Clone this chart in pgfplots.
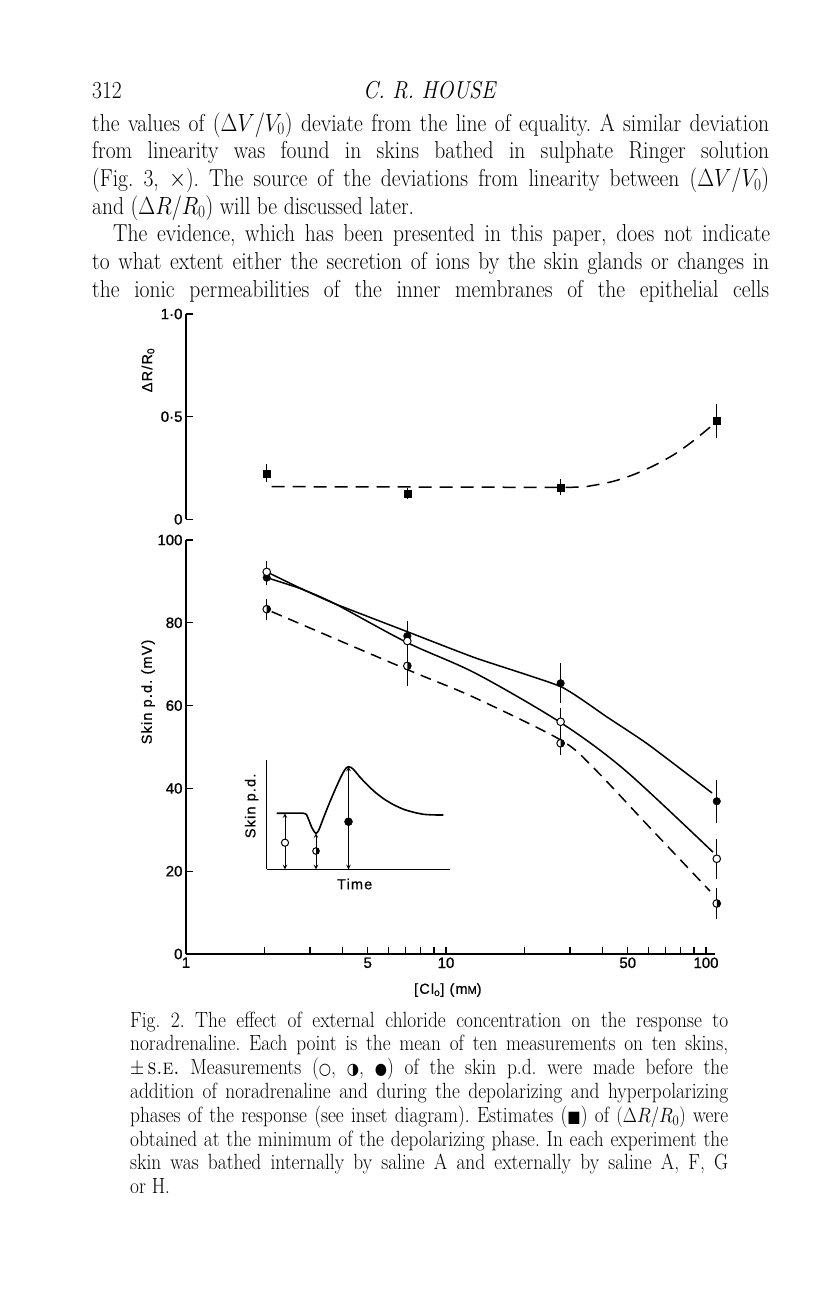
\documentclass[border=0pt]{standalone}
\usepackage{fontspec}
\usepackage{graphicx}
\usepackage{pgfplots}
\pgfplotsset{compat=1.18}
\newfontfamily\chartfont{Liberation Sans}[FakeBold=1]
\newfontfamily\chartls{Liberation Sans}[LetterSpace=8, FakeBold=0.6]
\newfontfamily\symfont{DejaVu Sans}
\newcommand\bodyfont{\fontsize{24.5}{27.7}\selectfont\addfontfeatures{FakeBold=0.6}}
\newcommand\capfont{\fontsize{22}{23.8}\selectfont\addfontfeatures{FakeBold=0.5}}
\newcommand\jl[2]{\scalebox{0.88}[1]{\makebox[#1][s]{#2}}}
\newcommand\nl[1]{\scalebox{0.88}[1]{#1}}
\frenchspacing
\pgfdeclareplotmark{halfR}{%
  \pgfpathcircle{\pgfpointorigin}{\pgfplotmarksize}%
  \pgfsetfillcolor{white}%
  \pgfusepathqfillstroke
  \pgfpathmoveto{\pgfqpoint{0pt}{\pgfplotmarksize}}%
  \pgfpatharc{90}{-90}{\pgfplotmarksize}%
  \pgfpathclose
  \pgfsetfillcolor{black}%
  \pgfusepathqfill
}
\pgfplotsset{
  chartbase/.style={
    scale only axis, clip=false,
    /pgf/number format/assume math mode=true,
    axis line style={-, line width=1.7pt, black},
    tick style={line width=1.3pt, black},
    major tick length=7pt, minor tick length=7pt,
    tick align=inside,
    xminorticks=false, yminorticks=false,
    ticklabel style={font=\chartfont\fontsize{15}{15}\selectfont},
    label style={font=\chartls\fontsize{14.5}{14.5}\selectfont},
    error bars/error bar style={line width=1.2pt, black},
    error bars/error mark options={line width=1.2pt, black, mark size=3pt},
  }
}
\begin{document}
\begin{tikzpicture}
\path[fill=white] (0pt,0pt) rectangle (816pt,-1296pt);
\begin{scope}[x=1pt,y=-1pt]
% header
\node[anchor=base west,inner sep=0,font=\bodyfont] at (92,98) {\nl{312}};
\node[anchor=base,inner sep=0,font=\bodyfont] at (430,98) {\nl{\textit{C. R. HOUSE}}};
% body text
\node[anchor=base west,inner sep=0,font=\bodyfont] at (92,131) {\jl{769.3pt}{the values of $(\Delta V/V_0)$ deviate from the line of equality. A similar deviation}};
\node[anchor=base west,inner sep=0,font=\bodyfont] at (92,158.7) {\jl{769.3pt}{from linearity was found in skins bathed in sulphate Ringer solution}};
\node[anchor=base west,inner sep=0,font=\bodyfont] at (92,186.4) {\jl{769.3pt}{(Fig. 3, $\times$). The source of the deviations from linearity between $(\Delta V/V_0)$}};
\node[anchor=base west,inner sep=0,font=\bodyfont] at (92,214.1) {\nl{and $(\Delta R/R_0)$ will be discussed later.}};
\node[anchor=base west,inner sep=0,font=\bodyfont] at (113,241.8) {\jl{746.6pt}{The evidence, which has been presented in this paper, does not indicate}};
\node[anchor=base west,inner sep=0,font=\bodyfont] at (92,269.5) {\jl{769.3pt}{to what extent either the secretion of ions by the skin glands or changes in}};
\node[anchor=base west,inner sep=0,font=\bodyfont] at (92,297.2) {\jl{769.3pt}{the ionic permeabilities of the inner membranes of the epithelial cells}};
% caption
\node[anchor=base west,inner sep=0,font=\capfont] at (130,1027) {\jl{679.5pt}{Fig. 2. The effect of external chloride concentration on the response to}};
\node[anchor=base west,inner sep=0,font=\capfont] at (130,1050.8) {\jl{679.5pt}{noradrenaline. Each point is the mean of ten measurements on ten skins,}};
\node[anchor=base west,inner sep=0,font=\capfont] at (130,1074.6) {\jl{679.5pt}{$\pm$\,\textsc{s.e.} Measurements ({\symfont\fontsize{16}{16}\selectfont ○}, {\symfont\fontsize{16}{16}\selectfont ◑}, {\symfont\fontsize{16}{16}\selectfont ●}) of the skin p.d. were made before the}};
\node[anchor=base west,inner sep=0,font=\capfont] at (130,1098.4) {\jl{679.5pt}{addition of noradrenaline and during the depolarizing and hyperpolarizing}};
\node[anchor=base west,inner sep=0,font=\capfont] at (130,1122.2) {\jl{679.5pt}{phases of the response (see inset diagram). Estimates ({\symfont\fontsize{16}{16}\selectfont ■}) of $(\Delta R/R_0)$ were}};
\node[anchor=base west,inner sep=0,font=\capfont] at (130,1146) {\jl{679.5pt}{obtained at the minimum of the depolarizing phase. In each experiment the}};
\node[anchor=base west,inner sep=0,font=\capfont] at (130,1169.8) {\jl{679.5pt}{skin was bathed internally by saline A and externally by saline A, F, G}};
\node[anchor=base west,inner sep=0,font=\capfont] at (130,1193.6) {\nl{or H.}};
\end{scope}

% ---------- upper axis: Delta R / R0 ----------
\begin{axis}[chartbase,
  at={(186pt,-519.3pt)}, anchor=south west,
  width=529pt, height=205.3pt,
  xmode=log, xmin=1, xmax=108.3, ymin=0, ymax=1,
  axis y line*=left, axis x line=none,
  ytick={0,0.5,1}, yticklabels={0,0·5,1·0},
  ylabel={ΔR/R\textsubscript{0}},
  ylabel style={at={(axis description cs:-0.0718,0.727)}, anchor=center, rotate=0},
]
\addplot[black, line width=1.5pt, dash pattern=on 13pt off 8pt, smooth, tension=0.5] coordinates {
 (2.136,0.159) (10,0.157) (30,0.156) (36.3,0.164) (44,0.185) (52.5,0.217) (62.7,0.26) (74.8,0.313) (86.8,0.37) (100.6,0.435) (108.3,0.47)};
\addplot[black, only marks, mark=square*, mark size=3.5pt,
  error bars/.cd, y dir=both, y explicit] coordinates {
 (2.044,0.224) +- (0,0.03)
 (7.1,0.127) +- (0,0.012)
 (27.6,0.156) +- (0,0.025)
 (110,0.479) +- (0,0.07)};
\end{axis}

% ---------- lower axis: skin p.d. ----------
\begin{axis}[chartbase,
  at={(186pt,-954pt)}, anchor=south west,
  width=529pt, height=414pt,
  xmode=log, xmin=1, xmax=108.3, ymin=0, ymax=100,
  axis x line*=bottom, axis y line*=left,
  ytick={0,20,40,60,80,100},
  xtick={1,2,3,4,5,6,7,8,9,10,20,30,40,50,60,70,80,90,100},
  xticklabels={1,,,,5,,,,,10,,,,50,,,,,100},
  xlabel={[Cl\textsubscript{o}] (m{\fontsize{11}{11}\selectfont M})},
  xlabel style={at={(axis description cs:0.495,-0.087)}, anchor=center},
  ylabel={Skin p.d. (mV)},
  ylabel style={at={(axis description cs:-0.0718,0.633)}, anchor=center, rotate=0},
]
% curves
\addplot[black, line width=1.5pt, smooth, tension=0.3] coordinates {
 (2.044,90.9) (2.745,88.3) (3.74,84.6) (7.10,77.85) (13,71.5) (27.6,64.6) (41.5,57.3) (60,50.6) (105.5,38.9)};
\addplot[black, line width=1.5pt, smooth, tension=0.5] coordinates {
 (2.044,92.3) (2.745,88.4) (3.74,84.6) (7.10,75.2) (13,67.8) (27.6,55.9) (48.8,44.4) (106.4,24.6)};
\addplot[black, line width=1.5pt, dash pattern=on 11pt off 7pt, smooth, tension=0.5] coordinates {
 (2.136,82.7) (7.10,68.7) (12.7,62.1) (27.6,51.7) (36.9,45.0) (60.9,30.5) (103.6,15.2)};
% points: filled (hyperpolarizing)
\addplot[black, only marks, mark=*, mark size=3.8pt, mark options={fill=black},
  error bars/.cd, y dir=both, y explicit] coordinates {
 (2.044,90.9) +- (0,1.0)
 (7.1,76.8) +- (0,2.8)
 (27.6,65.4) +- (0,4.1)
 (110,36.9) +- (0,4.5)};
% open (before)
\addplot[black, only marks, mark=*, mark size=3.8pt, mark options={fill=white, line width=1pt},
  error bars/.cd, y dir=both, y explicit] coordinates {
 (2.044,92.3) +- (0,2.0)
 (7.1,75.6) +- (0,3.0)
 (27.6,56.1) +- (0,2.6)
 (110,23.0) +- (0,4.1)};
% half (depolarizing)
\addplot[black, only marks, mark=halfR, mark size=3.8pt, mark options={line width=1pt},
  error bars/.cd, y dir=both, y explicit] coordinates {
 (2.044,83.3) +- (0,1.8)
 (7.1,69.6) +- (0,4.1)
 (27.6,50.9) +- (0,2.2)
 (110,12.2) +- (0,3.0)};
\end{axis}

% ---------- inset diagram ----------
\begin{axis}[
  at={(266.7pt,-869.3pt)}, anchor=south west,
  scale only axis, clip=false,
  width=183.3pt, height=109.3pt,
  xmin=0, xmax=183.3, ymin=0, ymax=109.3,
  axis x line*=bottom, axis y line*=left,
  axis line style={-, line width=1.5pt, black},
  ticks=none,
  xlabel={Time}, ylabel={Skin p.d.},
  label style={font=\chartls\fontsize{14.5}{14.5}\selectfont},
  xlabel style={at={(axis description cs:0.48,-0.135)}, anchor=center},
  ylabel style={at={(axis description cs:-0.082,0.58)}, anchor=center, rotate=0},
]
\addplot[black, line width=1.6pt, smooth, tension=0.4] coordinates {
 (10,56) (37,56) (41,52) (45,42) (49,36) (52,39) (57,52) (63,67) (69,81) (74,92) (77.5,98.5) (80,101.8) (82,102.6) (84.5,101.8) (88,98.5) (93,92.5) (100,85) (108,77.5) (117,70.5) (127,64.5) (137,60) (147,57) (157,55) (167,54.4) (176.6,54.3)};
\addplot[black, line width=1pt, <->, >=stealth] coordinates {(18.3,56) (18.3,0)};
\addplot[black, line width=1pt, <->, >=stealth] coordinates {(49.3,36) (49.3,0)};
\addplot[black, line width=1pt, <->, >=stealth] coordinates {(81.8,102.6) (81.8,0)};
\addplot[black, only marks, mark=*, mark size=3.6pt, mark options={fill=white, line width=1pt}] coordinates {(18.3,26.6)};
\addplot[black, only marks, mark=halfR, mark size=3.3pt, mark options={line width=1pt}] coordinates {(49.3,18.3)};
\addplot[black, only marks, mark=*, mark size=4pt, mark options={fill=black}] coordinates {(81.8,47.6)};
\end{axis}
\end{tikzpicture}
\end{document}
